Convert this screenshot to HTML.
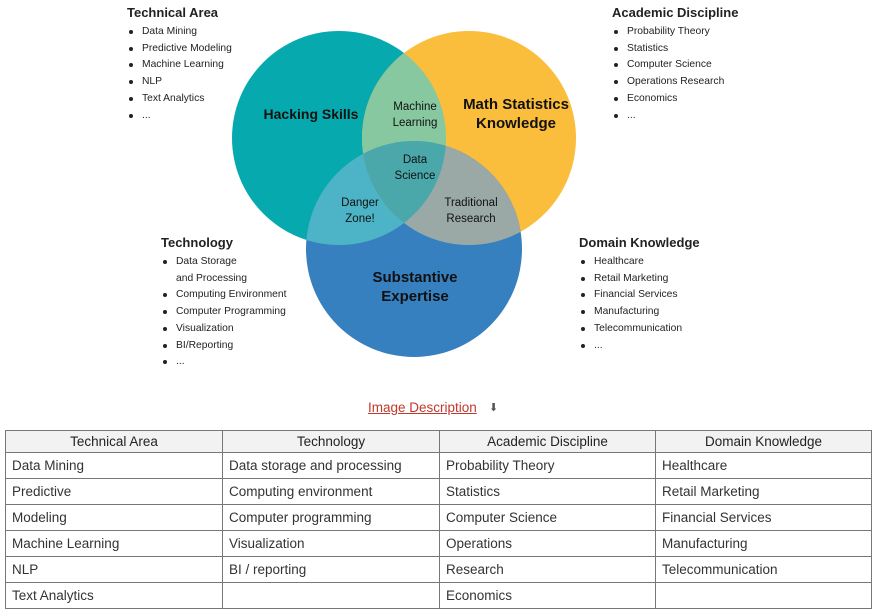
<!DOCTYPE html>
<html><head><meta charset="utf-8"><style>
body{margin:0;width:875px;height:613px;background:#fff;font-family:"Liberation Sans",sans-serif;color:#222;position:relative;overflow:hidden}
.blk{position:absolute;font-size:10.3px;line-height:16.7px;color:#222}
.blk h4{margin:0 0 2px 0;font-size:13px;font-weight:bold;line-height:18px;color:#222}
.blk div{padding-left:15px;position:relative;white-space:nowrap}
.blk div.b:before{content:"";position:absolute;left:2px;top:6px;width:4px;height:4px;border-radius:50%;background:#222}
table{position:absolute;left:5px;top:430px;border-collapse:collapse;font-size:13.5px;color:#333}
td,th{border:1px solid #777;padding:0 6px;height:25px;text-align:left;font-weight:normal}
th{background:#f2f2f2;text-align:center;height:21px;color:#222}
.lnk{position:absolute;left:368px;top:400px;font-size:13.5px;color:#c0392b;text-decoration:underline}
</style></head><body>
<svg width="875" height="400" style="position:absolute;left:0;top:0">
<defs>
<clipPath id="ct"><circle cx="339" cy="138" r="107"/></clipPath>
<clipPath id="co"><circle cx="469" cy="138" r="107"/></clipPath>
</defs>
<circle cx="339" cy="138" r="107" fill="#06a9ae"/>
<circle cx="469" cy="138" r="107" fill="#fbbd3c"/>
<circle cx="414" cy="249" r="108" fill="#3780bf"/>
<circle cx="469" cy="138" r="107" fill="#87c8a0" clip-path="url(#ct)"/>
<circle cx="414" cy="249" r="108" fill="#4db3c6" clip-path="url(#ct)"/>
<circle cx="414" cy="249" r="108" fill="#9aa9a6" clip-path="url(#co)"/>
<g clip-path="url(#ct)"><circle cx="414" cy="249" r="108" fill="#4aa8ab" clip-path="url(#co)"/></g>
<g font-family="Liberation Sans,sans-serif" fill="#111" text-anchor="middle">
<text x="311" y="119" font-size="14" font-weight="bold">Hacking Skills</text>
<text x="516" y="109" font-size="15" font-weight="bold">Math Statistics</text>
<text x="516" y="128" font-size="15" font-weight="bold">Knowledge</text>
<text x="415" y="282" font-size="15" font-weight="bold">Substantive</text>
<text x="415" y="301" font-size="15" font-weight="bold">Expertise</text>
<text x="415" y="110" font-size="11.5">Machine</text>
<text x="415" y="126" font-size="11.5">Learning</text>
<text x="415" y="163" font-size="11.5">Data</text>
<text x="415" y="179" font-size="11.5">Science</text>
<text x="360" y="206" font-size="11.5">Danger</text>
<text x="360" y="222" font-size="11.5">Zone!</text>
<text x="471" y="206" font-size="11.5">Traditional</text>
<text x="471" y="222" font-size="11.5">Research</text>
</g>
</svg>
<div class="blk" style="left:127px;top:4px"><h4>Technical Area</h4>
<div class="b">Data Mining</div><div class="b">Predictive Modeling</div><div class="b">Machine Learning</div><div class="b">NLP</div><div class="b">Text Analytics</div><div class="b">...</div></div>
<div class="blk" style="left:612px;top:4px"><h4>Academic Discipline</h4>
<div class="b">Probability Theory</div><div class="b">Statistics</div><div class="b">Computer Science</div><div class="b">Operations Research</div><div class="b">Economics</div><div class="b">...</div></div>
<div class="blk" style="left:161px;top:234px"><h4>Technology</h4>
<div class="b">Data Storage</div><div>and Processing</div><div class="b">Computing Environment</div><div class="b">Computer Programming</div><div class="b">Visualization</div><div class="b">BI/Reporting</div><div class="b">...</div></div>
<div class="blk" style="left:579px;top:234px"><h4>Domain Knowledge</h4>
<div class="b">Healthcare</div><div class="b">Retail Marketing</div><div class="b">Financial Services</div><div class="b">Manufacturing</div><div class="b">Telecommunication</div><div class="b">...</div></div>
<span class="lnk">Image Description</span><span style="position:absolute;left:489px;top:401px;font-size:11px;color:#555">&#11015;</span>
<table>
<colgroup><col style="width:217px"><col style="width:217px"><col style="width:216px"><col style="width:216px"></colgroup>
<tr><th>Technical Area</th><th>Technology</th><th>Academic Discipline</th><th>Domain Knowledge</th></tr>
<tr><td>Data Mining</td><td>Data storage and processing</td><td>Probability Theory</td><td>Healthcare</td></tr>
<tr><td>Predictive</td><td>Computing environment</td><td>Statistics</td><td>Retail Marketing</td></tr>
<tr><td>Modeling</td><td>Computer programming</td><td>Computer Science</td><td>Financial Services</td></tr>
<tr><td>Machine Learning</td><td>Visualization</td><td>Operations</td><td>Manufacturing</td></tr>
<tr><td>NLP</td><td>BI / reporting</td><td>Research</td><td>Telecommunication</td></tr>
<tr><td>Text Analytics</td><td></td><td>Economics</td><td></td></tr>
</table>
</body></html>
